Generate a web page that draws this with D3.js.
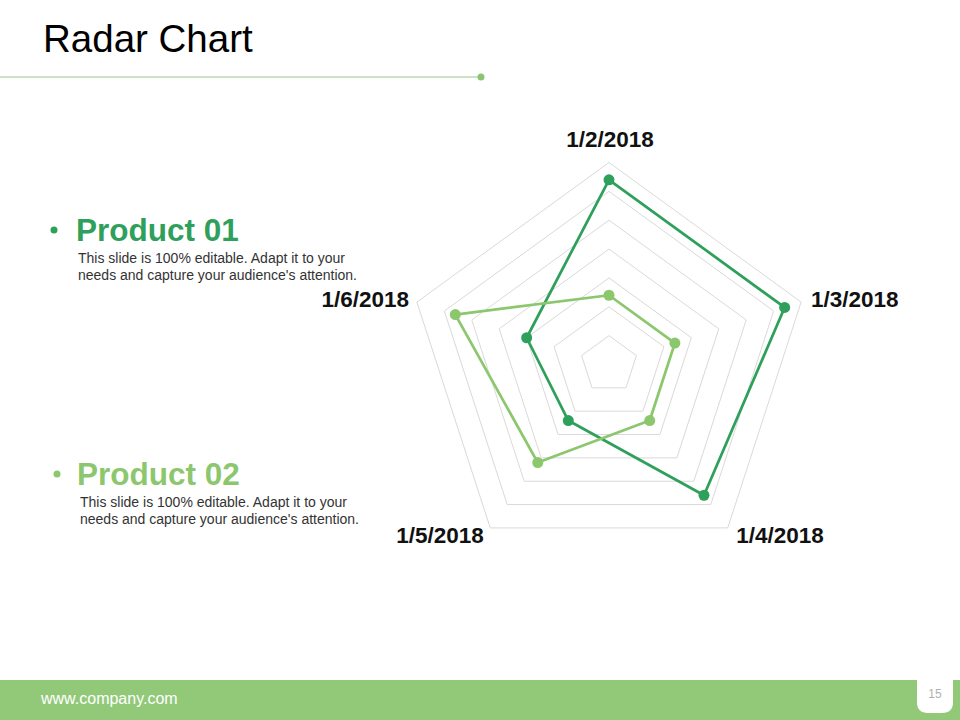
<!DOCTYPE html>
<html>
<head>
<meta charset="utf-8">
<script src="https://cdn.jsdelivr.net/npm/d3@7"></script>
<style>
  html, body { margin: 0; padding: 0; background: #fff; }
  svg { display: block; font-family: Arial, "Liberation Sans", sans-serif; }
</style>
</head>
<body>
<svg id="chart" width="960" height="720"></svg>
<script>
// ---- Data ----
const categories = ["1/2/2018", "1/3/2018", "1/4/2018", "1/5/2018", "1/6/2018"];
const product01 = [32, 32, 28, 12, 15];
const product02 = [12, 12, 12, 21, 28];
const seriesNames = ["Product 01", "Product 02"];
const ringTicks = [5, 10, 15, 20, 25, 30, 35];
const description = ["This slide is 100% editable. Adapt it to your", "needs and capture your audience's attention."];

const colors = ["#2FA05C", "#8CC76E"];
const series = [product01, product02];

const svg = d3.select("#chart");

// ---- Header ----
svg.append("text").attr("x", 43).attr("y", 52)
  .attr("font-size", 38.5).attr("fill", "#000").text("Radar Chart");
svg.append("line").attr("x1", 0).attr("x2", 480).attr("y1", 77).attr("y2", 77)
  .attr("stroke", "#9CC48A").attr("stroke-width", 1);
svg.append("circle").attr("cx", 481).attr("cy", 77).attr("r", 3.5).attr("fill", "#8DC474");

// ---- Footer ----
svg.append("rect").attr("x", 0).attr("y", 680).attr("width", 960).attr("height", 40).attr("fill", "#92C979");
svg.append("text").attr("x", 41).attr("y", 704).attr("font-size", 16).attr("fill", "#fff").text("www.company.com");
svg.append("path")
  .attr("d", "M917,680 H953 V702 Q953,713 942,713 H928 Q917,713 917,702 Z")
  .attr("fill", "#fff");
svg.append("text").attr("x", 935).attr("y", 698).attr("text-anchor", "middle")
  .attr("font-size", 12).attr("fill", "#b0b0b0").text("15");

// ---- Legend-like text blocks ----
const blocks = [{y: 241, bx: 54, tx: 76, dx: 78}, {y: 485, bx: 57, tx: 77, dx: 80}];
blocks.forEach((b, i) => {
  const g = svg.append("g");
  g.append("circle").attr("cx", b.bx).attr("cy", b.y - 11).attr("r", 3.5).attr("fill", colors[i]);
  g.append("text").attr("x", b.tx).attr("y", b.y)
    .attr("font-size", 31.5).attr("font-weight", "bold").attr("fill", colors[i]).text(seriesNames[i]);
  description.forEach((line, j) => {
    g.append("text").attr("x", b.dx).attr("y", b.y + 22 + j * 16.5)
      .attr("font-size", 14).attr("fill", "#333").text(line);
  });
});

// ---- Radar ----
const cx = 609, cy = 364.5, R = 202;
const rScale = d3.scaleLinear().domain([0, 35]).range([0, R]);
const angle = d3.scalePoint().domain(categories).range([0, 2 * Math.PI * (categories.length - 1) / categories.length]);
const pt = (cat, v) => {
  const a = angle(cat);
  return [cx + rScale(v) * Math.sin(a), cy - rScale(v) * Math.cos(a)];
};

const grid = svg.append("g");
ringTicks.forEach(t => {
  grid.append("path")
    .attr("d", d3.line()(categories.map(c => pt(c, t))) + "Z")
    .attr("fill", "none").attr("stroke", "#d9d9d9").attr("stroke-width", 1);
});

const labelPos = [
  {x: 610, y: 147, anchor: "middle"},
  {x: 811, y: 307, anchor: "start"},
  {x: 780, y: 543, anchor: "middle"},
  {x: 440, y: 543, anchor: "middle"},
  {x: 409, y: 307, anchor: "end"}
];
categories.forEach((c, i) => {
  svg.append("text").attr("x", labelPos[i].x).attr("y", labelPos[i].y)
    .attr("text-anchor", labelPos[i].anchor)
    .attr("font-size", 22.5).attr("font-weight", "bold").attr("fill", "#111").text(c);
});

series.forEach((vals, si) => {
  const pts = categories.map((c, i) => pt(c, vals[i]));
  svg.append("path").attr("d", d3.line()(pts) + "Z")
    .attr("fill", "none").attr("stroke", colors[si]).attr("stroke-width", 2.75).attr("stroke-linejoin", "round");
  svg.append("g").selectAll("circle").data(pts).join("circle")
    .attr("cx", d => d[0]).attr("cy", d => d[1]).attr("r", 5.5).attr("fill", colors[si]);
});
</script>
</body>
</html>
